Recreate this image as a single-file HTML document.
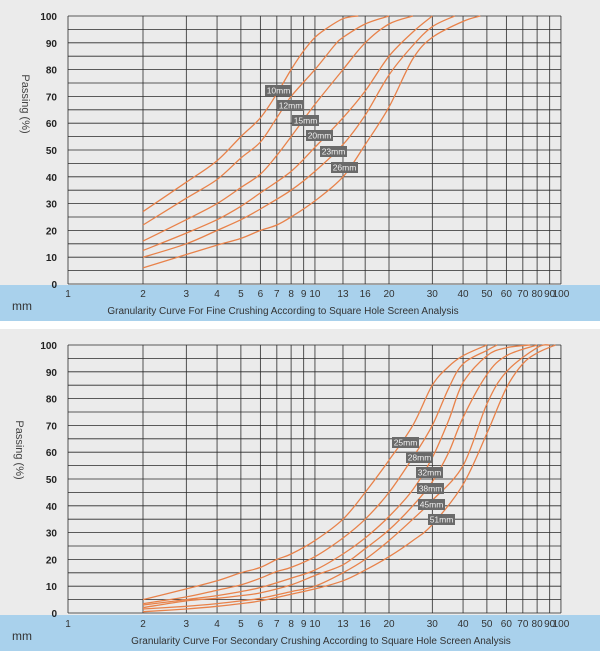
<!DOCTYPE html>
<html><head><meta charset="utf-8">
<style>
html,body{margin:0;padding:0;background:#fff;}
body{width:600px;height:651px;overflow:hidden;font-family:"Liberation Sans",sans-serif;}
svg{display:block;}
</style></head>
<body>
<svg id="chart" width="600" height="651" viewBox="0 0 600 651" xmlns="http://www.w3.org/2000/svg"></svg>
<script>
const xTicks = [1,2,3,4,5,6,7,8,9,10,13,16,20,30,40,50,60,70,80,90,100];
const yTicks = [0,10,20,30,40,50,60,70,80,90,100];
const fineNames = ["10mm","12mm","15mm","20mm","23mm","26mm"];
const fineX = [
 [2,3,4,5,6,7,8,9,10,11,13,15],
 [2,3,4,5,6,7,8,10,12,13,16,20],
 [2,3,4,5,6,7,8,10,13,16,20,25],
 [2,3,4,5,6,8,10,13,16,20,25,30],
 [2,3,4,5,6,8,10,13,16,20,25,30,37],
 [2,3,4,5,6,7,8,10,13,16,20,25,30,40,47]];
const fineY = [
 [27,38,46,55,62,71,80,87,92,95,99,100],
 [22,32,39,47,53,62,70,80,89,92,97,100],
 [16,24,30,36,41,48,55,67,80,90,97,100],
 [12.5,19,24,29,34,42,51,62,72,85,94,100],
 [10,15,20,24,28,35,42,52,63,78,89,96,100],
 [6,11,14.5,17,20,22,25,31,40,52,66,84,92,98,100]];
const secNames = ["25mm","28mm","32mm","38mm","45mm","51mm"];
const secX = [
 [2,3,4,5,6,7,8,10,13,16,20,25,30,35,40,50],
 [2,3,4,5,6,7,8,10,13,16,20,25,30,35,40,50,55],
 [2,3,4,5,6,8,10,13,16,20,25,30,35,40,50,60,75],
 [2,3,4,5,6,8,10,13,16,20,25,30,35,40,50,60,80],
 [2,3,4,5,6,8,10,13,16,20,25,30,40,50,60,80,90],
 [2,3,4,5,6,8,10,13,16,20,25,30,40,50,60,70,80,95]];
const secY = [
 [5,9,12,15,17,20,22,27,35,45,57,70,85,92,96,100],
 [3.5,6,8.5,10.5,13,15.5,17,21,28,35,45,58,70,84,93,98,100],
 [3,5,6.5,8,9.5,13,16,22,28,36,46,58,72,86,96,99,100],
 [2,4.5,5.5,6.5,7.5,10.5,14,18,24,31,40,49,60,73,89,96,100],
 [1.5,2.5,3.5,4.5,5.5,8,10,15,20,27,35,42,55,78,90,99,100],
 [0.5,1.5,2.5,3.5,4.5,7,9,12,16,21,27,33,48,67,84,93,97,100]];

const NS="http://www.w3.org/2000/svg";
const svg=document.getElementById('chart');
function mk(tag,attrs,parent){const e=document.createElementNS(NS,tag);for(const k in attrs)e.setAttribute(k,attrs[k]);(parent||svg).appendChild(e);return e;}
function xs(v){return v<2?68+(v-1)*75:143+246*Math.log10(v/2);}

function drawChart(cfg){
  const g=mk('g',{});
  
  
  const top=cfg.top,bot=cfg.bot;
  const ys=v=>bot-(bot-top)*v/100;
  const bg=mk('rect',{x:0,y:cfg.bgTop,width:600,height:cfg.bandTop-cfg.bgTop,fill:'#ebebeb'},g);
  
  
  const band=mk('rect',{x:0,y:cfg.bandTop,width:600,height:cfg.bandBot-cfg.bandTop,fill:'#a9d1ec'},g);
  
  
  // horizontal grid every 5
  for(let v=0;v<=100;v+=5){
    const l=mk('line',{x1:68,x2:561,y1:ys(v),y2:ys(v),stroke:'#2a2a2a','stroke-width':0.8},g);
    
    
  }
  xTicks.forEach(t=>{
    const l=mk('line',{x1:xs(t),x2:xs(t),y1:top,y2:bot,stroke:'#2a2a2a','stroke-width':0.8},g);
    
    
    const tx=mk('text',{x:xs(t),y:cfg.bandTop+12,'font-size':10,fill:'#333','text-anchor':'middle'},g);
    tx.textContent=t;
    
    
  });
  yTicks.forEach(t=>{
    const tx=mk('text',{x:57,y:ys(t)+4,'font-size':10,'font-weight':'bold',fill:'#222','text-anchor':'end'},g);
    tx.textContent=t;
    
    
  });
  const yt=mk('text',{x:0,y:0,'font-size':11,fill:'#444','text-anchor':'middle',transform:`translate(${cfg.ytX},${cfg.ytY}) rotate(90)`},g);
  yt.textContent='Passing (%)';
  
  
  const mm=mk('text',{x:12,y:cfg.bandBot-11,'font-size':12,fill:'#333'},g);
  mm.textContent='mm';
  
  
  const tt=mk('text',{x:cfg.titleX,y:cfg.bandBot-7,'font-size':10,fill:'#333','text-anchor':'middle'},g);
  tt.textContent=cfg.title;
  
  
  // curves
  cfg.xs.forEach((arr,i)=>{
    const pts=arr.map((x,j)=>[xs(x),ys(cfg.ys[i][j])]);
    let d='M'+pts[0][0].toFixed(1)+','+pts[0][1].toFixed(1);
    for(let k=0;k<pts.length-1;k++){
      const p0=pts[k-1]||pts[k],p1=pts[k],p2=pts[k+1],p3=pts[k+2]||p2;
      const c1=[p1[0]+(p2[0]-p0[0])/6,p1[1]+(p2[1]-p0[1])/6];
      const c2=[p2[0]-(p3[0]-p1[0])/6,p2[1]-(p3[1]-p1[1])/6];
      d+=`C${c1[0].toFixed(1)},${c1[1].toFixed(1)} ${c2[0].toFixed(1)},${c2[1].toFixed(1)} ${p2[0].toFixed(1)},${p2[1].toFixed(1)}`;
    }
    const p=mk('path',{d:d,fill:'none',stroke:'#e8824a','stroke-width':1.3},g);
    
    
  });
  cfg.labels.forEach((lb,i)=>{
    const r=mk('rect',{x:lb[0],y:lb[1],width:27,height:11,fill:'#6a6a6a'},g);
    
    
    const t=mk('text',{x:lb[0]+13.5,y:lb[1]+8.5,'font-size':8.5,fill:'#f0f0f0','text-anchor':'middle'},g);
    t.textContent=cfg.names[i];
    
    
  });
}
drawChart({name:'fine-crushing-chart',bgTop:0,top:16,bot:284,bandTop:285,bandBot:321,
  ytX:22,ytY:104,titleX:283,title:'Granularity Curve For Fine Crushing According to Square Hole Screen Analysis',
  xs:fineX,ys:fineY,names:fineNames,
  labels:[[265,85],[277,100],[292,115],[306,130],[320,146],[331,162]]});
drawChart({name:'secondary-crushing-chart',bgTop:329,top:345,bot:613,bandTop:615,bandBot:651,
  ytX:16,ytY:450,titleX:321,title:'Granularity Curve For Secondary Crushing According to Square Hole Screen Analysis',
  xs:secX,ys:secY,names:secNames,
  labels:[[392,437],[406,452],[416,467],[417,483],[418,499],[428,514]]});
</script>
</body></html>
